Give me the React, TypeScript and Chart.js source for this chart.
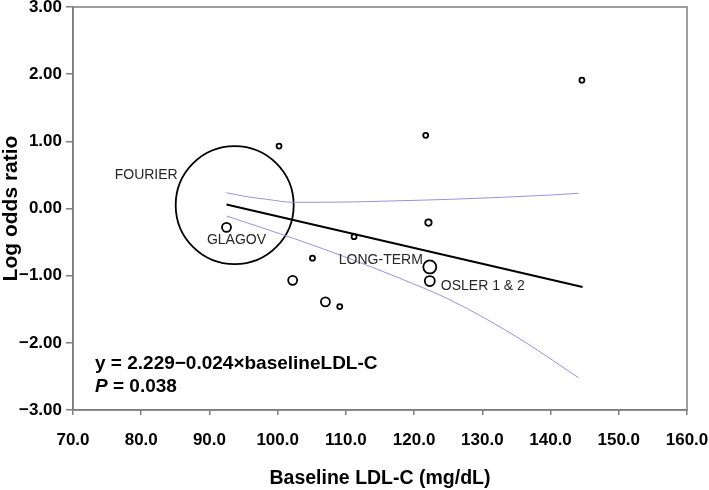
import React, { useEffect, useRef } from "react";
import { Chart, registerables } from "chart.js";

Chart.register(...registerables);

// ---- Data ----
const studyNames = ["FOURIER", "GLAGOV", "LONG-TERM", "OSLER 1 & 2", "", "", "", "", "", "", "", "", ""];
const baselineLdl = [93.7, 92.5, 122.3, 122.3, 100.2, 111.2, 121.7, 144.6, 122.1, 105.1, 102.2, 107.0, 109.1];
const logOddsRatio = [0.05, -0.28, -0.87, -1.08, 0.93, -0.42, 1.09, 1.91, -0.21, -0.74, -1.07, -1.39, -1.46];
const studyWeight = [59, 4.5, 6.5, 5, 2.5, 2.5, 2.5, 2.5, 3.2, 2.5, 4.5, 4.5, 2.5];

const fitX = [92.5, 144.7];
const fitY = [0.06, -1.17];

const upperCiX = [92.5, 95.5, 98.4, 102.3, 110.6, 116.5, 125.3, 139.9, 144.1];
const upperCiY = [0.235, 0.176, 0.137, 0.092, 0.097, 0.112, 0.137, 0.2, 0.226];
const lowerCiX = [92.5, 102.3, 111.1, 117.9, 125.3, 135.0, 144.1];
const lowerCiY = [-0.112, -0.444, -0.767, -1.039, -1.362, -1.909, -2.519];

const xTicks = [70, 80, 90, 100, 110, 120, 130, 140, 150, 160];
const yTicks = [-3, -2, -1, 0, 1, 2, 3];

const equationText = "y = 2.229\u22120.024\u00D7baselineLDL-C";
const pValueText = "0.038";

const FONT = "'Liberation Sans', Arial, Helvetica, sans-serif";

// label placement relative to bubble centres (px offsets & alignment)
const labelPlacement: Record<string, { dx: number; dy: number; align: CanvasTextAlign }> = {
  "FOURIER": { dx: -57, dy: -30, align: "right" },
  "GLAGOV": { dx: 10, dy: 13, align: "center" },
  "LONG-TERM": { dx: -7, dy: -7, align: "right" },
  "OSLER 1 & 2": { dx: 11, dy: 5, align: "left" },
};

const framePlugin = {
  id: "frame",
  afterDatasetsDraw(chart: any) {
    const { ctx, chartArea } = chart;
    ctx.save();
    ctx.strokeStyle = "#7f7f7f";
    ctx.lineWidth = 1.5;
    ctx.strokeRect(chartArea.left, chartArea.top, chartArea.right - chartArea.left, chartArea.bottom - chartArea.top);
    ctx.restore();
  },
};

const textPlugin = {
  id: "texts",
  afterDatasetsDraw(chart: any) {
    const { ctx, chartArea, scales } = chart;
    ctx.save();
    ctx.fillStyle = "#262626";
    ctx.font = `14px ${FONT}`;
    ctx.textBaseline = "middle";
    studyNames.forEach((name, i) => {
      if (!name) return;
      const p = labelPlacement[name];
      const cx = scales.x.getPixelForValue(baselineLdl[i]);
      const cy = scales.y.getPixelForValue(logOddsRatio[i]);
      ctx.textAlign = p.align;
      ctx.fillText(name, cx + p.dx, cy + p.dy);
    });
    ctx.fillStyle = "#000";
    ctx.textAlign = "left";
    ctx.font = `bold 19px ${FONT}`;
    const lx = chartArea.left + 22;
    ctx.fillText(equationText, lx, 364);
    ctx.font = `italic bold 19px ${FONT}`;
    ctx.fillText("P", lx, 387);
    const pw = ctx.measureText("P").width;
    ctx.font = `bold 19px ${FONT}`;
    ctx.fillText(" = " + pValueText, lx + pw, 387);
    ctx.restore();
  },
};

export default function App() {
  const ref = useRef<HTMLCanvasElement | null>(null);
  useEffect(() => {
    if (!ref.current) return;
    const bubbles = baselineLdl.map((x, i) => ({ x, y: logOddsRatio[i], r: studyWeight[i] }));
    const chart = new Chart(ref.current, {
      type: "bubble",
      data: {
        datasets: [
          {
            type: "line" as any,
            data: upperCiX.map((x, i) => ({ x, y: upperCiY[i] })) as any,
            borderColor: "#9494dc",
            borderWidth: 1,
            pointRadius: 0,
            cubicInterpolationMode: "monotone",
            fill: false,
          } as any,
          {
            type: "line" as any,
            data: lowerCiX.map((x, i) => ({ x, y: lowerCiY[i] })) as any,
            borderColor: "#9494dc",
            borderWidth: 1,
            pointRadius: 0,
            cubicInterpolationMode: "monotone",
            fill: false,
          } as any,
          {
            type: "line" as any,
            data: fitX.map((x, i) => ({ x, y: fitY[i] })) as any,
            borderColor: "#000",
            borderWidth: 2,
            pointRadius: 0,
            fill: false,
          } as any,
          {
            type: "bubble",
            data: bubbles,
            backgroundColor: "rgba(0,0,0,0)",
            borderColor: "#000",
            borderWidth: 1.8,
          },
        ],
      },
      options: {
        animation: false,
        responsive: false,
        events: [],
        layout: { autoPadding: false, padding: { left: 0, top: 7, right: 22, bottom: 0 } },
        plugins: { legend: { display: false }, tooltip: { enabled: false } },
        scales: {
          x: {
            type: "linear",
            min: 70,
            max: 160,
            afterBuildTicks: (s: any) => { s.ticks = xTicks.map((v) => ({ value: v })); },
            afterFit: (s: any) => { s.height = 80; s.paddingLeft = 0; s.paddingRight = 0; },
            ticks: {
              callback: (v: any) => Number(v).toFixed(1),
              color: "#000",
              font: { family: FONT, size: 17, weight: "bold" },
              padding: 15,
              maxRotation: 0,
              autoSkip: false,
            },
            grid: { drawOnChartArea: false, drawTicks: true, tickLength: 5, color: "#7f7f7f", lineWidth: 1.5 },
            border: { display: true, color: "#7f7f7f", width: 1.5 },
            title: {
              display: true,
              text: "Baseline LDL-C (mg/dL)",
              color: "#000",
              font: { family: FONT, size: 19.5, weight: "bold", lineHeight: 1.2 },
              padding: { top: 0, bottom: 0 },
            },
          },
          y: {
            type: "linear",
            min: -3,
            max: 3,
            afterBuildTicks: (s: any) => { s.ticks = yTicks.map((v) => ({ value: v })); },
            afterFit: (s: any) => { s.width = 73; s.paddingTop = 0; s.paddingBottom = 0; },
            ticks: {
              callback: (v: any) => (Number(v) < 0 ? "\u2212" + Math.abs(Number(v)).toFixed(2) : Number(v).toFixed(2)),
              color: "#000",
              font: { family: FONT, size: 17, weight: "bold" },
              padding: 4,
              autoSkip: false,
            },
            grid: { drawOnChartArea: false, drawTicks: true, tickLength: 7, color: "#7f7f7f", lineWidth: 1.5 },
            border: { display: true, color: "#7f7f7f", width: 1.5 },
            title: {
              display: true,
              text: "Log odds ratio",
              color: "#000",
              font: { family: FONT, size: 21, weight: "bold", lineHeight: 1.1 },
              padding: { top: 0, bottom: 0 },
            },
          },
        },
      } as any,
      plugins: [framePlugin, textPlugin],
    });
    return () => chart.destroy();
  }, []);
  return (
    <div style={{ position: "fixed", left: 0, top: 0, width: 709, height: 490, background: "#fff" }}>
      <canvas ref={ref} width={709} height={490} style={{ display: "block" }} />
    </div>
  );
}
